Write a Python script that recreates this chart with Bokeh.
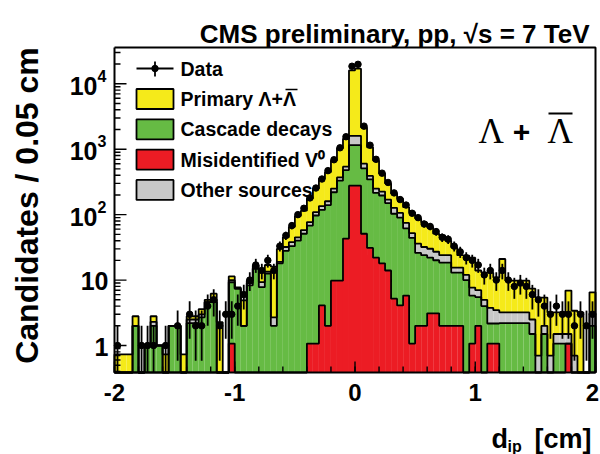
import math
import numpy as np
from bokeh.plotting import figure
from bokeh.models import Label, Range1d
from bokeh.embed import file_html
from bokeh.resources import INLINE

# ---------------- data (candidates per 0.05 cm bin, 80 bins from -2 to 2) ----------------
x_lo, x_hi, bin_width = -2.0, 2.0, 0.05

red = [0, 0, 0, 0, 0, 0, 0, 0, 0, 0,
       0, 0, 0, 0, 0, 0, 0, 0, 0, 1.07,
       0, 0, 0, 0, 0, 0, 0, 0, 0, 0,
       0, 0, 1.07, 1.07, 4.1, 2.0, 9.8, 9.8, 43, 277,
       277, 51, 31, 22, 18, 14, 5.2, 4.1, 5.8, 1.07,
       2.0, 2.0, 3.1, 3.1, 2.0, 2.0, 2.0, 2.0, 0, 1.07,
       2.0, 0, 1.07, 1.07, 0, 0, 0, 0, 0, 0,
       0, 0, 0, 0, 0, 1.07, 0, 0, 0, 0]

green = [0, 0, 0, 2.0, 0, 1.0, 2.0, 1.0, 0, 2.0,
         2.0, 0, 2.2, 2.2, 2.7, 4.6, 4.6, 0, 0, 8.2,
         7.4, 2.0, 8.3, 15, 7.8, 12.6, 2.0, 18, 28, 33,
         40, 51, 67, 96, 114, 138, 210, 320, 437, 873,
         873, 459, 314, 193, 178, 136, 98, 86, 56, 43,
         24, 22, 19, 17, 16.5, 16.5, 11, 11, 10, 4.7,
         3.5, 4, 1.1, 1.1, 2.2, 2.2, 2.2, 2.2, 2.2, 1.5,
         0, 1.5, 0, 1.07, 1.07, 0, 0, 0, 0, 2.0]

gray = [0, 0, 0, 0, 0, 0, 0.3, 0, 0, 0,
        0, 0, 0.3, 0.3, 0.3, 0, 0.4, 0, 0, 0.7,
        0, 0, 0.7, 0, 1.5, 0.9, 0.7, 1, 4, 5,
        5, 7, 9, 12, 17, 20, 30, 40, 60, 450,
        450, 90, 45, 35, 29, 20, 24, 16, 13, 8,
        10, 8, 8, 7, 5.5, 5.5, 2.5, 2.5, 2, 1.9,
        1.5, 1, 1.6, 1.3, 1.0, 1.0, 1.0, 1.0, 1.0, 1.0,
        0.7, 0.5, 0.7, 0.43, 0.43, 0.43, 0.7, 0, 0, 1.1]

yellow = [0.73, 0.73, 0.73, 0.8, 0, 0, 0.5, 0, 0.73, 0,
          0, 0.73, 0.3, 0.3, 0.6, 0.4, 1.2, 2.27, 0, 1.4,
          0.3, 2.9, 0.8, 1.7, 4.7, 3.5, 13.3, 11, 13, 27,
          50, 57, 99, 141, 220, 285, 420, 660, 910, 14400,
          15400, 1550, 680, 420, 200, 130, 83, 69, 55, 56,
          51, 44, 34, 24, 24, 16, 16, 8.5, 11.7, 14.3,
          7, 8, 9.2, 7.5, 17.8, 6.6, 6.6, 6.6, 6.6, 4.9,
          4.7, 3.4, 2.5, 1.7, 1.7, 5.4, 2.7, 3.2, 0, 3.4]

data = [1, 0, 0, 0, 1, 1, 1, 0, 1, 0,
        2, 0, 3, 2, 2, 4, 5, 2, 3, 3,
        4, 6, 10, 17, 14, 20, 14, 33, 48, 68,
        100, 125, 180, 255, 350, 470, 690, 1050, 1550, 18500,
        19800, 2250, 1150, 700, 430, 310, 215, 170, 140, 105,
        90, 72, 66, 55, 45, 42, 33, 27, 22, 20,
        17, 12, 14, 10, 14, 10, 8, 9, 8, 6,
        5, 4, 3, 4, 3, 3, 2, 3, 2, 3]

y_major = [1, 10, 100, 1000, 10000]
y_major_text = [("1", ""), ("10", ""), ("10", "2"), ("10", "3"), ("10", "4")]
x_major = [-2, -1, 0, 1, 2]
x_major_text = ["-2", "-1", "0", "1", "2"]

# ---------------- layout helpers (pixel -> data) ----------------
W, H = 600, 454
L, R, T, B = 114, 595, 47, 372
YMIN, YMAX = 0.387, 35800.0
LA, LB = math.log10(YMIN), math.log10(YMAX)


def X(px):
    return x_lo + (px - L) / (R - L) * (x_hi - x_lo)


def Y(py):
    return 10 ** (LA + (B - py) / (B - T) * (LB - LA))


def PY(v):
    return B - (math.log10(v) - LA) / (LB - LA) * (B - T)


n = len(data)
edges = x_lo + bin_width * np.arange(n + 1)
lefts, rights = edges[:-1], edges[1:]

c_red = np.array(red, float)
c_green = c_red + np.array(green, float)
c_gray = c_green + np.array(gray, float)
c_tot = c_gray + np.array(yellow, float)


def clip(v):
    return np.clip(v, YMIN, YMAX)


p = figure(width=W, height=H, y_axis_type="log",
           x_range=Range1d(X(0), X(W)), y_range=Range1d(Y(H), Y(0)),
           output_backend="svg", toolbar_location=None,
           min_border_left=0, min_border_right=0, min_border_top=0, min_border_bottom=0)
p.title.visible = False
p.xaxis.visible = False
p.yaxis.visible = False
p.xgrid.visible = False
p.ygrid.visible = False
p.outline_line_color = None
p.background_fill_color = "white"
p.border_fill_color = "white"

FONT = "Liberation Sans"
C_YEL, C_GRN, C_RED, C_GRY = "#f5ea1a", "#66bb44", "#ec1c24", "#c8c8c8"
LW = 1.8

# stacked fills
for lo, hi, col in [(np.zeros(n), c_red, C_RED), (c_red, c_green, C_GRN),
                    (c_green, c_gray, C_GRY), (c_gray, c_tot, C_YEL)]:
    p.quad(left=lefts, right=rights, bottom=clip(lo), top=clip(hi),
           fill_color=col, line_color=None)


def step_xy(v):
    xs, ys = [edges[0]], [YMIN]
    for i in range(n):
        val = float(clip(v[i]))
        xs += [edges[i], edges[i + 1]]
        ys += [val, val]
    xs.append(edges[-1])
    ys.append(YMIN)
    return xs, ys


for lev in [c_red, c_green, c_gray, c_tot]:
    xs, ys = step_xy(lev)
    p.line(xs, ys, line_color="black", line_width=LW)

# data points with errors
d = np.array(data, float)
m = d > 0
cx = (lefts + rights) / 2
err = np.sqrt(d)
p.segment(x0=cx[m], x1=cx[m], y0=clip(d - err)[m], y1=clip(d + err)[m],
          line_color="black", line_width=LW)
p.segment(x0=lefts[m], x1=rights[m], y0=d[m], y1=d[m], line_color="black", line_width=LW)
p.scatter(cx[m], d[m], size=6.5, color="black")

# ---------------- frame and ticks ----------------
tx0, tx1, ty0, ty1 = [], [], [], []
for v in y_major:
    tx0.append(X(L)); tx1.append(X(L + 12)); ty0.append(v); ty1.append(v)
for dec in [0.1, 1, 10, 100, 1000, 10000]:
    for k in range(2, 10):
        v = dec * k
        if YMIN < v < YMAX:
            tx0.append(X(L)); tx1.append(X(L + 6)); ty0.append(v); ty1.append(v)
for v in x_major:
    tx0.append(v); tx1.append(v); ty0.append(Y(B)); ty1.append(Y(B - 11))
for k in range(21):
    v = -2 + 0.2 * k
    tx0.append(v); tx1.append(v); ty0.append(Y(B)); ty1.append(Y(B - 6))
p.segment(x0=tx0, x1=tx1, y0=ty0, y1=ty1, line_color="black", line_width=1.4)

fx = [X(L), X(R), X(R), X(L), X(L)]
fy = [Y(T), Y(T), Y(B), Y(B), Y(T)]
p.line(fx, fy, line_color="black", line_width=2)


def lab(px, py, text, size, align="left", baseline="middle", style="bold", font=FONT, angle=0.0):
    p.add_layout(Label(x=X(px), y=Y(py), text=text, text_font=font,
                       text_font_size=f"{size}px", text_font_style=style,
                       text_align=align, text_baseline=baseline, angle=angle,
                       text_color="black"))


# y tick labels
for v, (base, ex) in zip(y_major, y_major_text):
    py = PY(v)
    if ex:
        lab(97, py + 2, base, 25, align="right")
        lab(97, py - 8, ex, 16, align="left")
    else:
        lab(108, py + 1, base, 25, align="right")

# x tick labels
for v, t in zip(x_major, x_major_text):
    cxp = L + (v - x_lo) / (x_hi - x_lo) * (R - L)
    lab(min(cxp, 592), 392, t, 24, align="center")

# axis titles
lab(26, 205, "Candidates / 0.05 cm", 32, align="center", angle=math.pi / 2)
lab(491, 438, "d", 27, baseline="alphabetic")
lab(507, 446, "ip", 16, baseline="alphabetic")
lab(591, 438, "[cm]", 27, align="right", baseline="alphabetic")

# header
lab(589, 33, "CMS preliminary, pp, \u221as = 7 TeV", 26, align="right", baseline="alphabetic")

# big label  Lambda + anti-Lambda
lab(478, 131, "\u039b", 35, style="normal", font="Liberation Serif")
lab(521, 131, "+", 30, align="center")
lab(547, 131, "\u039b", 35, style="normal", font="Liberation Serif")
p.segment(x0=[X(548)], x1=[X(572)], y0=[Y(113)], y1=[Y(113)], line_color="black", line_width=2)

# legend
leg_x0, leg_x1 = 136, 173
p.segment(x0=[X(leg_x0)], x1=[X(leg_x1)], y0=[Y(68)], y1=[Y(68)], line_color="black", line_width=LW)
p.segment(x0=[X(154.5)], x1=[X(154.5)], y0=[Y(61)], y1=[Y(76)], line_color="black", line_width=LW)
p.scatter([X(154.5)], [Y(68)], size=6.5, color="black")
lab(180, 68, "Data", 19.5)
items = [(C_YEL, "Primary \u039b+\u039b"), (C_GRN, "Cascade decays"),
         (C_RED, "Misidentified V\u2070"), (C_GRY, "Other sources")]
for k, (col, txt) in enumerate(items):
    yc = 98.5 + 30.3 * k
    p.quad(left=[X(leg_x0)], right=[X(leg_x1)], bottom=[Y(yc + 10)], top=[Y(yc - 10)],
           fill_color=col, line_color="black", line_width=LW)
    lab(180, yc, txt, 19.5)
# overline on the anti-Lambda in the legend
p.segment(x0=[X(285)], x1=[X(297)], y0=[Y(89)], y1=[Y(89)], line_color="black", line_width=1.5)

open("out.html", "w").write(file_html(p, INLINE))
